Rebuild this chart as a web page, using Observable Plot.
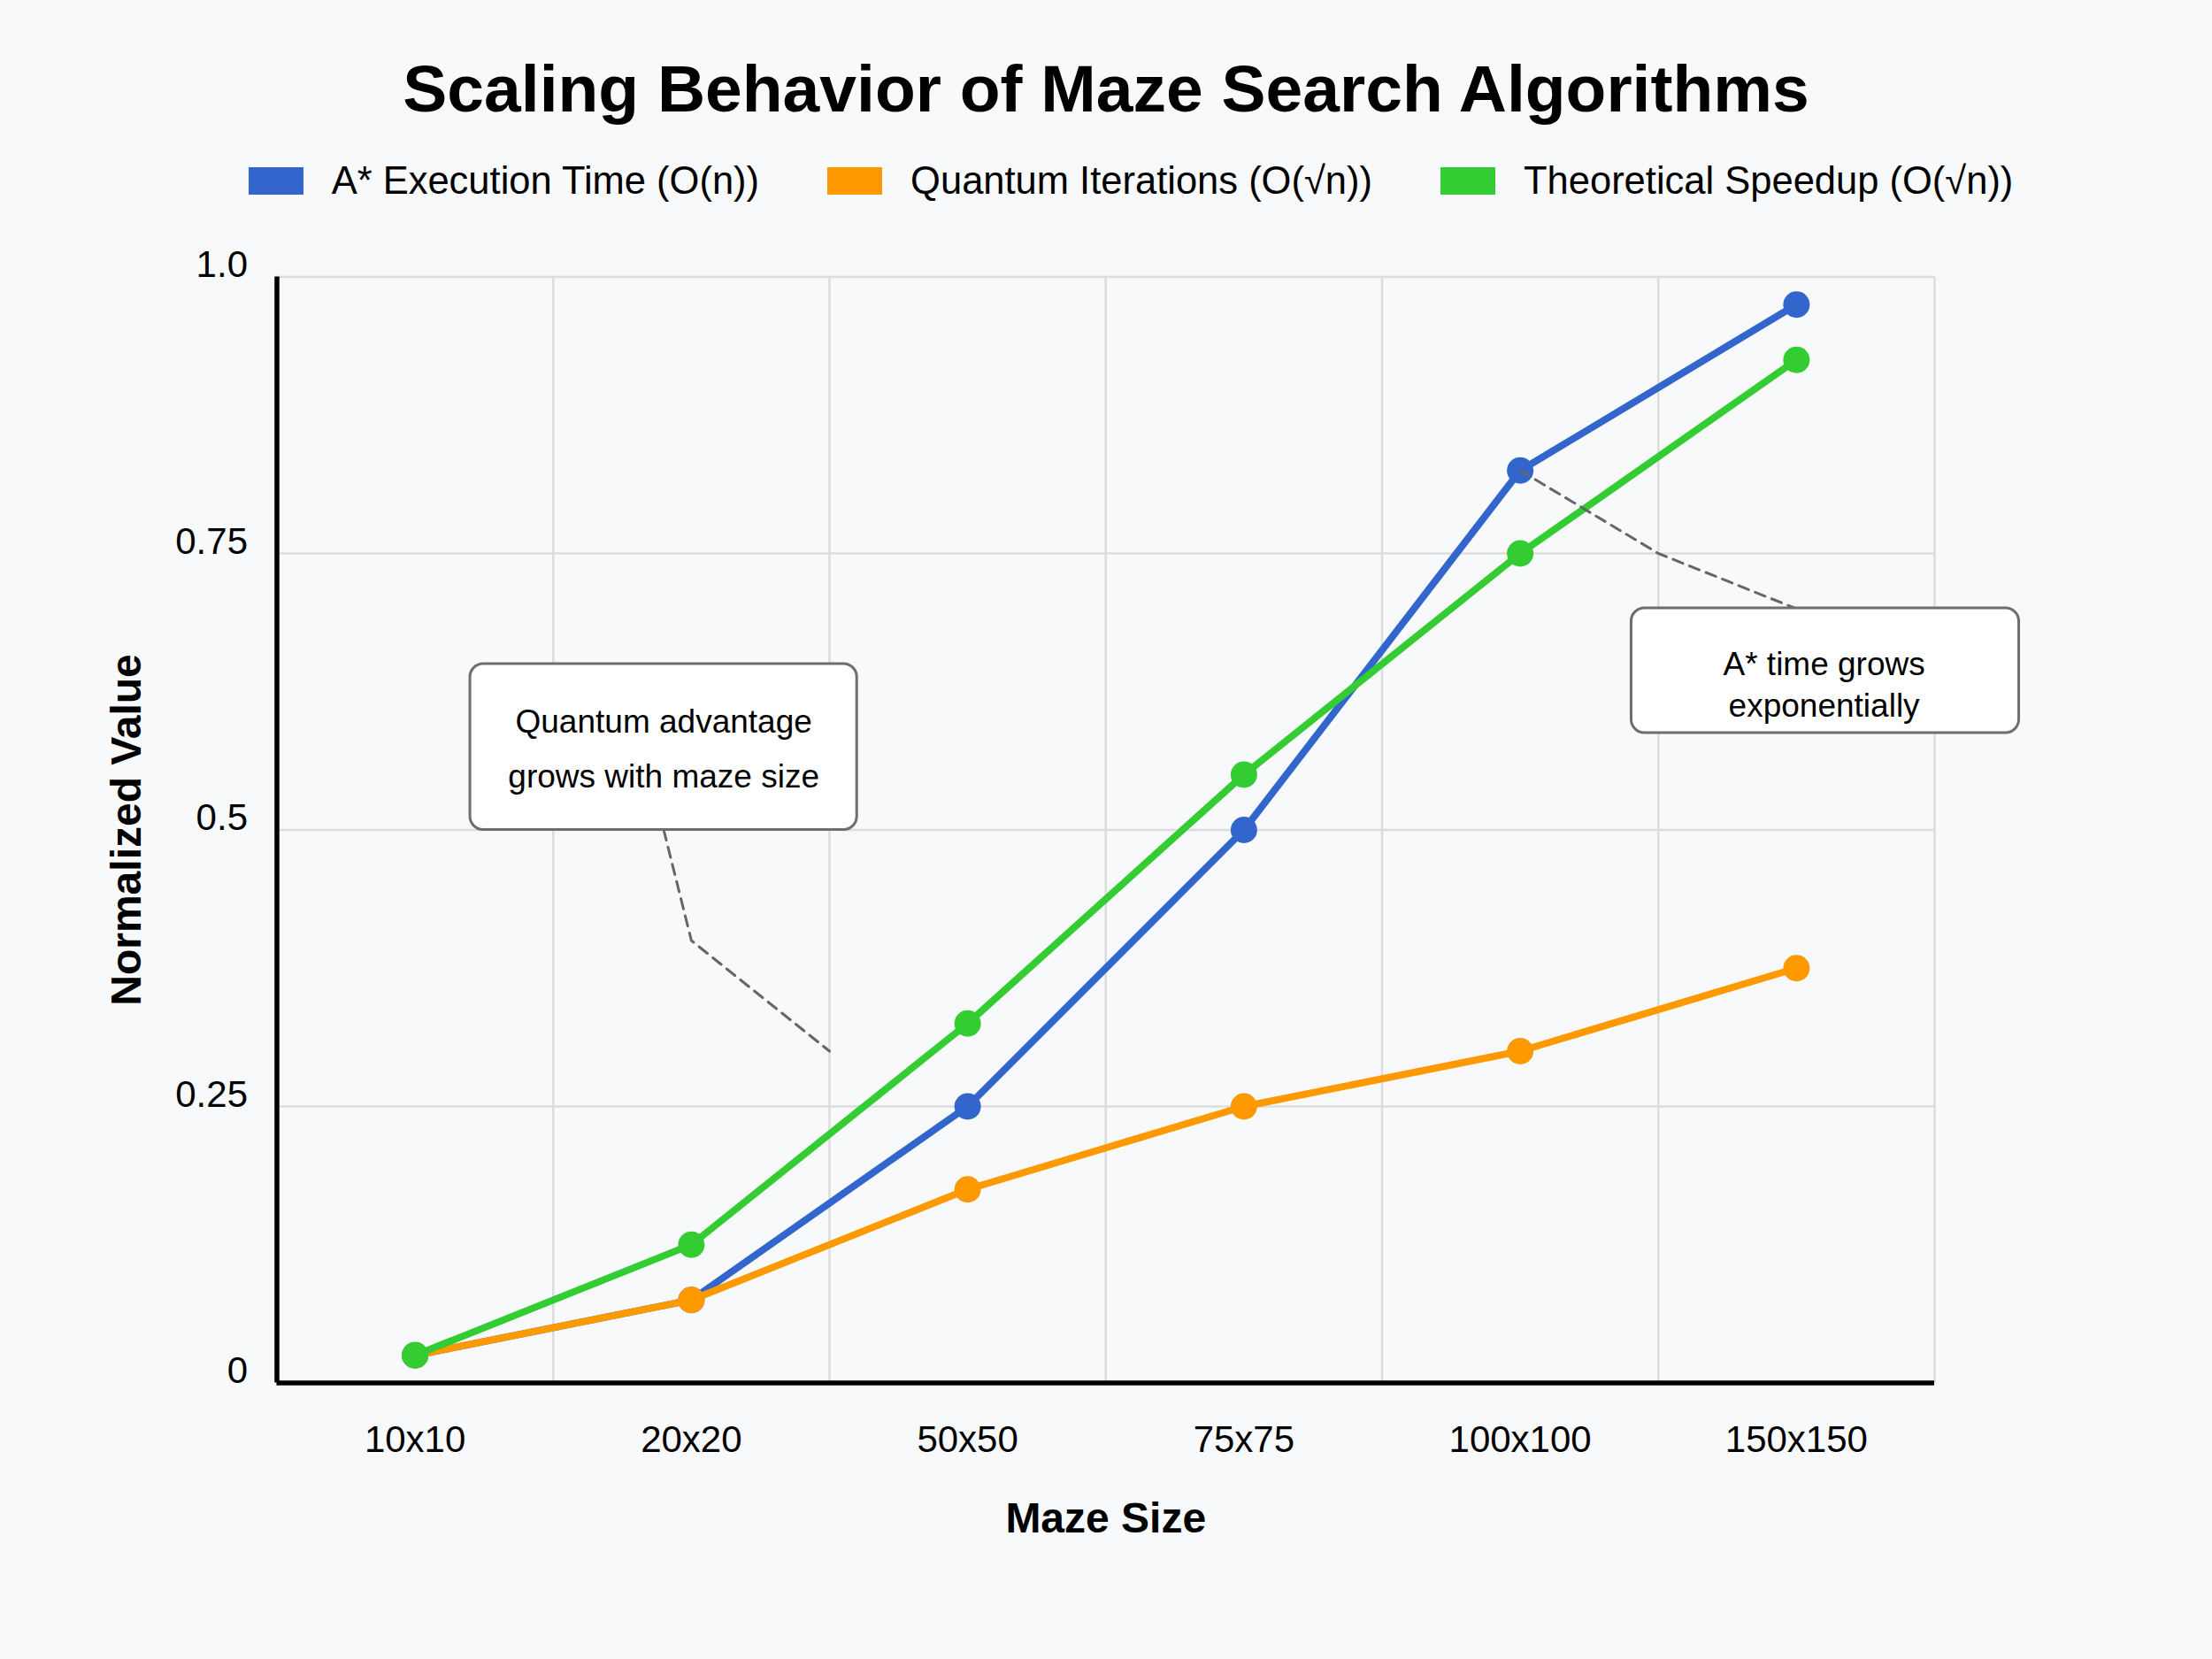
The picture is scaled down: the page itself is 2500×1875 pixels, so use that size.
<!DOCTYPE html>
<html>
<head>
<meta charset="utf-8">
<script src="https://cdn.jsdelivr.net/npm/d3@7"></script>
<script src="https://cdn.jsdelivr.net/npm/@observablehq/plot@0.6"></script>
<style>
  html, body { margin: 0; padding: 0; background: #f8f9fa; }
  body { width: 2500px; height: 1875px; position: relative; overflow: hidden;
         font-family: "Liberation Sans", Arial, Helvetica, sans-serif; }
  #header { position: relative; width: 2500px; height: 250px; }
  #title { position: absolute; left: 0; top: 62.5px; width: 2500px; text-align: center;
           font-size: 75px; line-height: 75px; font-weight: bold; color: #000; }
  #legend { position: absolute; left: 0; top: 183px; width: 2500px; height: 43px;
            display: flex; justify-content: center; align-items: center;
            transform: translateX(28px); }
  .item { display: flex; align-items: center; margin: 0 38.5px; }
  .sw { width: 62px; height: 31px; margin-right: 32px; }
  .lb { font-size: 43.5px; line-height: 43px; color: #000; white-space: nowrap; }
  #chart { position: absolute; left: 0; top: 250px; }
</style>
</head>
<body>
<div id="header">
  <div id="title"></div>
  <div id="legend"></div>
</div>
<div id="chart"></div>
<script>
// ---- data ----
const categories = ["10x10", "20x20", "50x50", "75x75", "100x100", "150x150"];
const seriesNames = ["A* Execution Time (O(n))", "Quantum Iterations (O(\u221An))", "Theoretical Speedup (O(\u221An))"];
const seriesColors = ["#3366cc", "#ff9900", "#33cc33"];
const astarTime = [0.025, 0.075, 0.25, 0.5, 0.825, 0.975];
const quantumIterations = [0.025, 0.075, 0.175, 0.25, 0.3, 0.375];
const theoreticalSpeedup = [0.025, 0.125, 0.325, 0.55, 0.75, 0.925];
const yTicks = [0, 0.25, 0.5, 0.75, 1];
const yTickLabels = ["0", "0.25", "0.5", "0.75", "1.0"];
const titleText = "Scaling Behavior of Maze Search Algorithms";
const xLabel = "Maze Size";
const yLabel = "Normalized Value";

// annotation notes (data units: x = category index, y = normalized value)
const noteTexts = [["Quantum advantage", "grows with maze size"], ["A* time grows", "exponentially"]];
const noteCenters = [[0.9, 0.579], [5.1, 0.633]];
const noteBoxes = [[0.2, 1.6, 0.5, 0.65], [4.403, 5.806, 0.5876, 0.7004]];
const noteLineHeights = [1.68, 1.27];
const notePaths = [
  [[0.9, 0.5], [1, 0.4], [1.5, 0.3]],
  [[4, 0.825], [4.5, 0.75], [5, 0.70]]
];

// ---- build tables ----
const allSeries = [astarTime, quantumIterations, theoreticalSpeedup];
const rows = allSeries.map((vals, s) => vals.map((v, i) => ({ i, v, s })));
const leader = notePaths.flatMap((p, k) => p.map(([x, y]) => ({ x, y, k })));
const boxes = noteBoxes.map(([x1, x2, y1, y2]) => ({ x1, x2, y1, y2 }));

document.getElementById("title").textContent = titleText;
const legend = document.getElementById("legend");
seriesNames.forEach((name, s) => {
  const it = document.createElement("div"); it.className = "item";
  const sw = document.createElement("div"); sw.className = "sw"; sw.style.background = seriesColors[s];
  const lb = document.createElement("div"); lb.className = "lb"; lb.textContent = name;
  it.appendChild(sw); it.appendChild(lb); legend.appendChild(it);
});

const n = categories.length;
const bounds = d3.range(1, n + 1).map(k => k - 0.5);

const marks = [
  Plot.gridX(bounds, { stroke: "#dcdcdc", strokeOpacity: 1, strokeWidth: 2.5 }),
  Plot.gridY(yTicks.filter(d => d > 0), { stroke: "#dcdcdc", strokeOpacity: 1, strokeWidth: 2.5 }),
  Plot.ruleX([-0.5], { stroke: "#000", strokeWidth: 5.5 }),
  Plot.ruleY([0], { stroke: "#000", strokeWidth: 5.5 }),
  Plot.axisX(d3.range(n), { tickFormat: i => categories[i], tickSize: 0, tickPadding: 48, fontSize: 42, label: null }),
  Plot.axisY(yTicks, { tickFormat: d => yTickLabels[yTicks.indexOf(d)], tickSize: 0, tickPadding: 33, dy: -13, fontSize: 42, label: null }),
  Plot.text([yLabel], { frameAnchor: "left", textAnchor: "middle", lineAnchor: "middle", rotate: -90, dx: -169, fontSize: 48, fontWeight: "bold", fill: "#000" }),
  Plot.text([xLabel], { frameAnchor: "bottom", textAnchor: "middle", lineAnchor: "middle", dy: 154, fontSize: 48, fontWeight: "bold", fill: "#000" })
];
rows.forEach((r, s) => {
  marks.push(Plot.line(r, { x: "i", y: "v", stroke: seriesColors[s], strokeWidth: 8, strokeLinejoin: "round", strokeLinecap: "round" }));
  marks.push(Plot.dot(r, { x: "i", y: "v", r: 15, fill: seriesColors[s], stroke: "none" }));
});
marks.push(Plot.line(leader, { x: "x", y: "y", z: "k", stroke: "#666", strokeWidth: 3, strokeDasharray: "12,8" }));
marks.push(Plot.rect(boxes, { x1: "x1", x2: "x2", y1: "y1", y2: "y2", rx: 15, fill: "#fff", stroke: "#6e6e6e", strokeWidth: 3 }));
noteTexts.forEach((lines, k) => {
  marks.push(Plot.text([lines.join("\n")], {
    x: () => noteCenters[k][0], y: () => noteCenters[k][1],
    textAnchor: "middle", lineAnchor: "middle", lineHeight: noteLineHeights[k], fontSize: 37, fill: "#000"
  }));
});

const chart = Plot.plot({
  width: 2500,
  height: 1625,
  marginTop: 62.5,
  marginBottom: 312.5,
  marginLeft: 312.5,
  marginRight: 314,
  style: { background: "transparent", fontFamily: "Liberation Sans, Arial, Helvetica, sans-serif", fontSize: "42px", color: "#000" },
  x: { type: "linear", domain: [-0.5, n - 0.5] },
  y: { type: "linear", domain: [0, 1] },
  marks
});
document.getElementById("chart").appendChild(chart);
</script>
</body>
</html>
